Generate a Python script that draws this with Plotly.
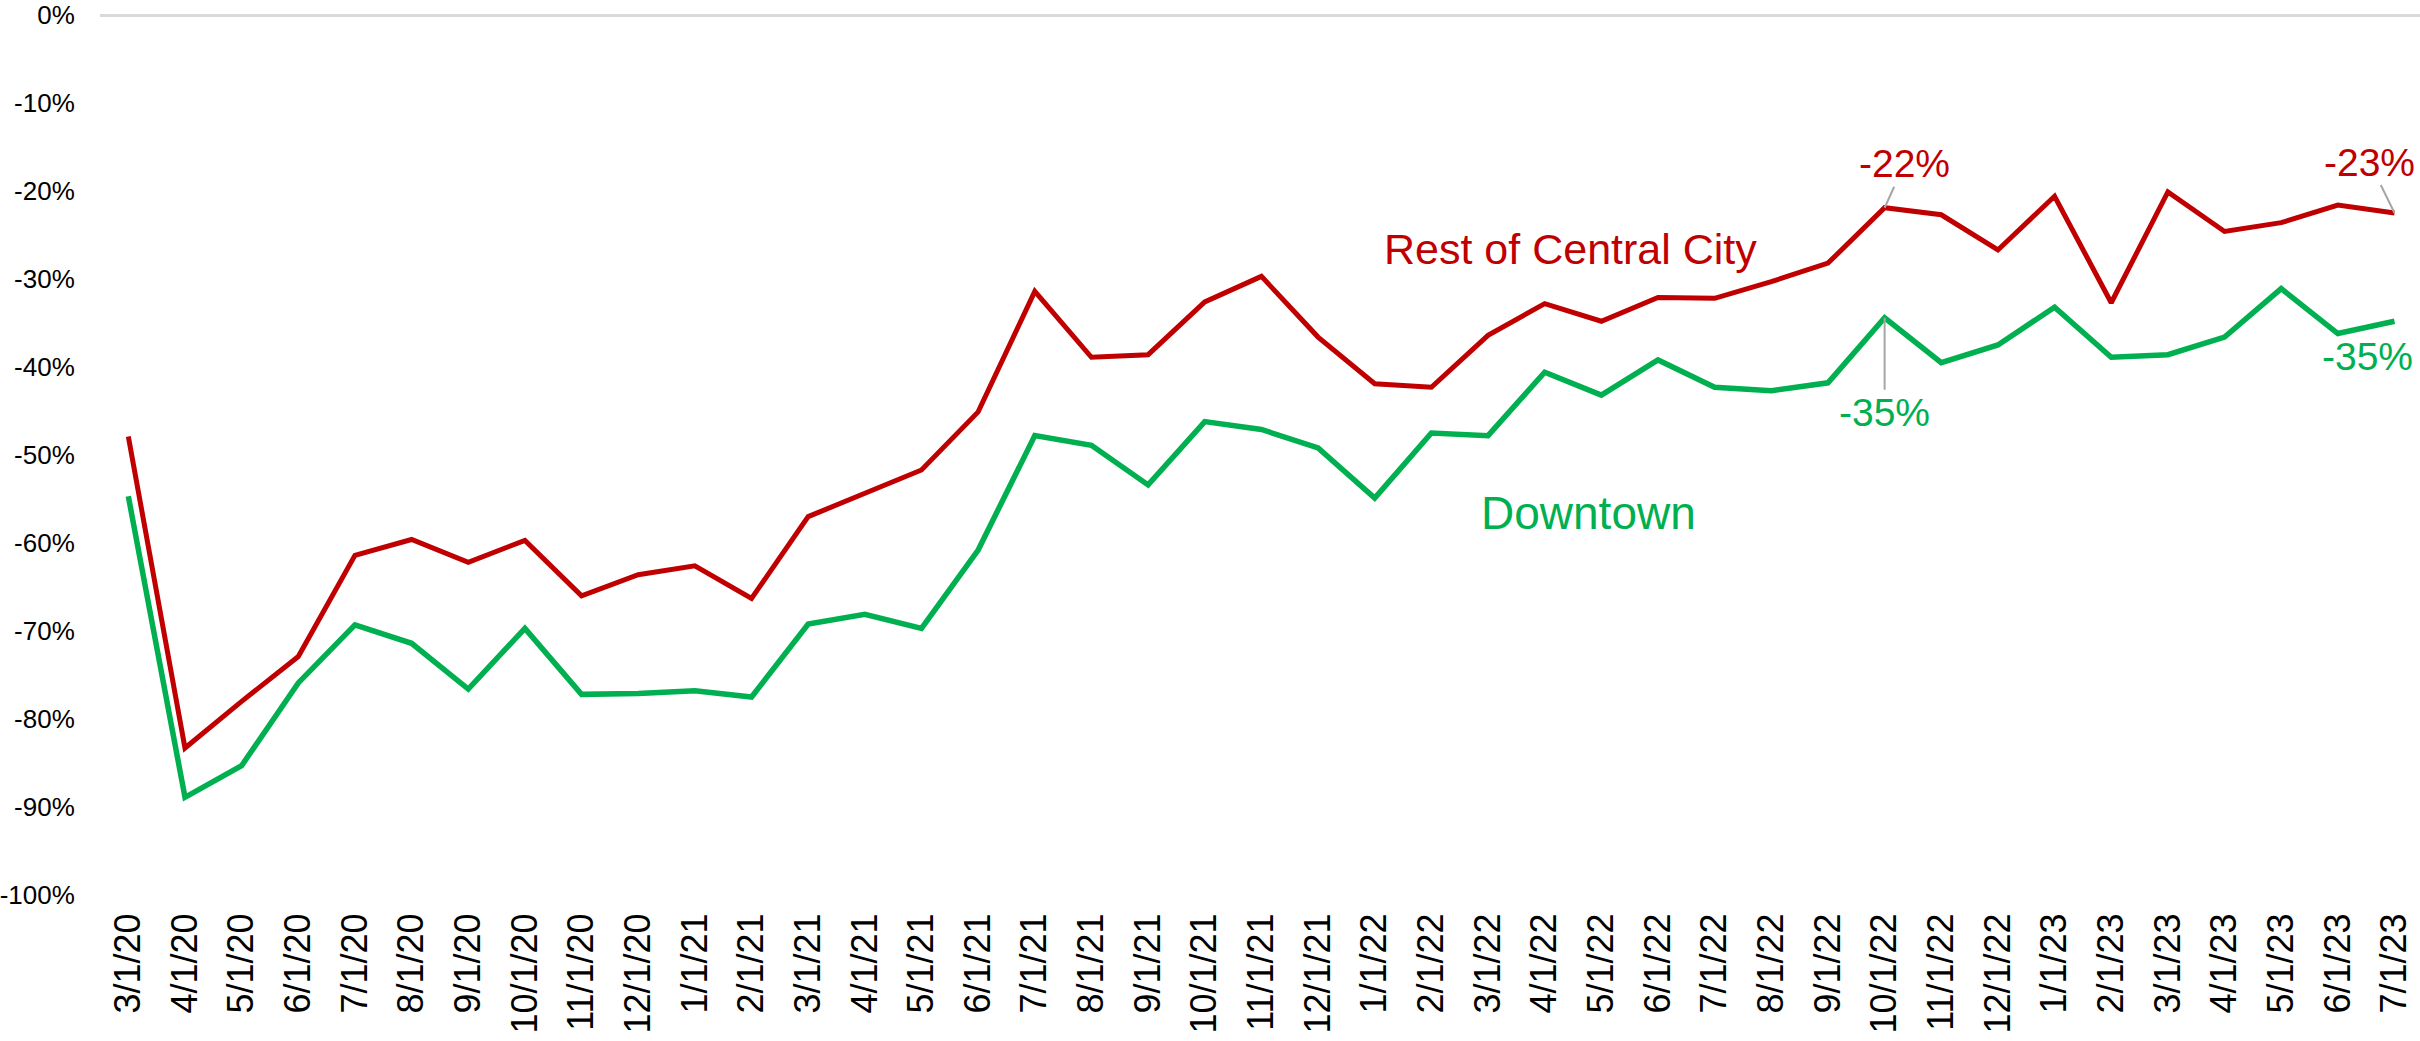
import plotly.graph_objects as go

dates = ["3/1/20","4/1/20","5/1/20","6/1/20","7/1/20","8/1/20","9/1/20","10/1/20","11/1/20","12/1/20",
         "1/1/21","2/1/21","3/1/21","4/1/21","5/1/21","6/1/21","7/1/21","8/1/21","9/1/21","10/1/21","11/1/21","12/1/21",
         "1/1/22","2/1/22","3/1/22","4/1/22","5/1/22","6/1/22","7/1/22","8/1/22","9/1/22","10/1/22","11/1/22","12/1/22",
         "1/1/23","2/1/23","3/1/23","4/1/23","5/1/23","6/1/23","7/1/23"]

rest_of_city = [-47.9, -83.3, -78.0, -72.9, -61.4, -59.6, -62.2, -59.7, -66.0, -63.6,
                -62.6, -66.3, -57.0, -54.4, -51.7, -45.1, -31.4, -38.9, -38.6, -32.6, -29.7, -36.6,
                -41.9, -42.3, -36.4, -32.8, -34.8, -32.1, -32.2, -30.3, -28.2, -21.9, -22.7, -26.7,
                -20.6, -32.7, -20.1, -24.6, -23.6, -21.6, -22.5]

downtown = [-54.7, -88.9, -85.3, -75.9, -69.3, -71.4, -76.6, -69.7, -77.2, -77.1,
            -76.8, -77.5, -69.2, -68.1, -69.7, -60.8, -47.8, -48.9, -53.4, -46.2, -47.1, -49.2,
            -54.9, -47.5, -47.8, -40.6, -43.2, -39.2, -42.3, -42.7, -41.8, -34.4, -39.5, -37.5,
            -33.2, -38.9, -38.6, -36.6, -31.1, -36.2, -34.8]

y_tick_vals = [0, -10, -20, -30, -40, -50, -60, -70, -80, -90, -100]
y_tick_text = ["0%", "-10%", "-20%", "-30%", "-40%", "-50%", "-60%", "-70%", "-80%", "-90%", "-100%"]

RED = "#C00000"
GREEN = "#00B050"
GRAY = "#A6A6A6"
FONT = "Liberation Sans, Arial, sans-serif"

fig = go.Figure()
fig.add_trace(go.Scatter(x=dates, y=rest_of_city, mode="lines", name="Rest of Central City",
                         line=dict(color=RED, width=5)))
fig.add_trace(go.Scatter(x=dates, y=downtown, mode="lines", name="Downtown",
                         line=dict(color=GREEN, width=5.5)))

annotations = [
    dict(x=dates[31], y=rest_of_city[31], text="-22%", showarrow=True, arrowhead=0,
         arrowwidth=2, arrowcolor=GRAY, ax=20, ay=-44, font=dict(color=RED, size=39, family=FONT)),
    dict(x=dates[40], y=rest_of_city[40], text="-23%", showarrow=True, arrowhead=0,
         arrowwidth=2, arrowcolor=GRAY, ax=-25, ay=-51, font=dict(color=RED, size=39, family=FONT)),
    dict(x=dates[31], y=downtown[31], text="-35%", showarrow=True, arrowhead=0,
         arrowwidth=2, arrowcolor=GRAY, ax=0, ay=95, font=dict(color=GREEN, size=39, family=FONT)),
    dict(x=dates[40], y=downtown[40], text="-35%", showarrow=False, xshift=-27, yshift=-35,
         font=dict(color=GREEN, size=39, family=FONT)),
    dict(x=25.45, y=-26.6, xref="x", yref="y", text="Rest of Central City", showarrow=False,
         xanchor="center", font=dict(color=RED, size=43, family=FONT)),
    dict(x=25.77, y=-56.6, xref="x", yref="y", text="Downtown", showarrow=False,
         xanchor="center", font=dict(color=GREEN, size=46, family=FONT)),
]

fig.update_layout(
    width=2420, height=1041,
    margin=dict(l=100, r=0, t=15, b=146, autoexpand=False),
    paper_bgcolor="white", plot_bgcolor="white",
    showlegend=False,
    annotations=annotations,
    font=dict(family=FONT, color="black"),
    xaxis=dict(type="category", range=[-0.5, 40.45], showgrid=False, zeroline=False,
               showline=False, tickangle=-90, ticks="outside", ticklen=3, automargin=False,
               tickcolor="rgba(0,0,0,0)", tickfont=dict(size=36, family=FONT, color="black")),
    yaxis=dict(range=[-100, 0], tickvals=y_tick_vals, ticktext=y_tick_text, showgrid=False,
               zeroline=True, zerolinecolor="#D9D9D9", zerolinewidth=2.5, showline=False,
               ticks="outside", ticklen=19, tickcolor="rgba(0,0,0,0)", automargin=False,
               tickfont=dict(size=26, family=FONT, color="black")),
)

fig.write_html("out.html", config={"displayModeBar": False},
               post_script="document.body.style.margin='0';document.body.style.overflow='hidden';")
